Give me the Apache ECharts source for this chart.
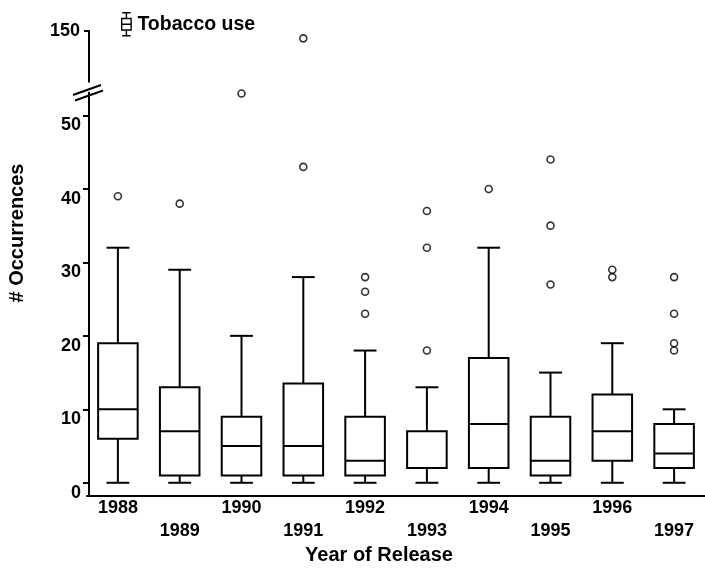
<!DOCTYPE html>
<html><head><meta charset="utf-8">
<script src="https://cdn.jsdelivr.net/npm/echarts@6/dist/echarts.min.js"></script>
<style>html,body{margin:0;padding:0;background:#fff}#c{width:705px;height:569px}</style>
</head><body><div id="c"></div>
<script>
// ---- data ----
const years = ['1988','1989','1990','1991','1992','1993','1994','1995','1996','1997'];
const whiskerLow  = [0, 0, 0, 0, 0, 0, 0, 0, 0, 0];
const q1          = [6, 1, 1, 1, 1, 2, 2, 1, 3, 2];
const medians     = [10, 7, 5, 5, 3, 2, 8, 3, 7, 4];
const q3          = [19, 13, 9, 13.5, 9, 7, 17, 9, 12, 8];
const whiskerHigh = [32, 29, 20, 28, 18, 13, 32, 15, 19, 10];
const outlierYearIdx = [0, 1, 2, 3, 4, 4, 4, 5, 5, 5, 6, 7, 7, 7, 8, 8, 9, 9, 9, 9];
const outlierValues  = [39, 38, 53, 43, 23, 26, 28, 18, 32, 37, 40, 27, 35, 44, 28, 29, 18, 19, 23, 28];
const upperOutlierYearIdx = [3];
const upperOutlierValues  = [149];
const lowerTicks = [0, 10, 20, 30, 40, 50];
const upperTicks = [150];
const seriesName = 'Tobacco use';

const FONT = '"Liberation Sans", Arial, Helvetica, sans-serif';
const boxData = years.map((y, i) => [i, whiskerLow[i], q1[i], medians[i], q3[i], whiskerHigh[i]]);
const lowerOut = outlierYearIdx.map((k, i) => [k, outlierValues[i]]);
const upperOut = upperOutlierYearIdx.map((k, i) => [k, upperOutlierValues[i]]);

function renderBox(params, api) {
  const x = api.value(0);
  const lo = api.coord([x, api.value(1)]);
  const b1 = api.coord([x, api.value(2)]);
  const md = api.coord([x, api.value(3)]);
  const b3 = api.coord([x, api.value(4)]);
  const hi = api.coord([x, api.value(5)]);
  const band = api.size([1, 0])[0];
  const bw = band * 0.64, cw = band * 0.37;
  const cx = lo[0];
  const st = { stroke: '#000', lineWidth: 2, fill: null };
  return { type: 'group', children: [
    { type: 'line', shape: { x1: cx, y1: hi[1], x2: cx, y2: b3[1] }, style: st },
    { type: 'line', shape: { x1: cx, y1: b1[1], x2: cx, y2: lo[1] }, style: st },
    { type: 'line', shape: { x1: cx - cw / 2, y1: hi[1], x2: cx + cw / 2, y2: hi[1] }, style: st },
    { type: 'line', shape: { x1: cx - cw / 2, y1: lo[1], x2: cx + cw / 2, y2: lo[1] }, style: st },
    { type: 'rect', shape: { x: cx - bw / 2, y: b3[1], width: bw, height: b1[1] - b3[1] }, style: { stroke: '#000', lineWidth: 2, fill: '#fff' } },
    { type: 'line', shape: { x1: cx - bw / 2, y1: md[1], x2: cx + bw / 2, y2: md[1] }, style: st }
  ]};
}

const chart = echarts.init(document.getElementById('c'), null, { renderer: 'canvas' });
const outlierStyle = { color: '#fff', borderColor: '#000', borderWidth: 1.6 };
const legendIcon = 'path://M2,0.5L10,0.5M6,0.5L6,6M1.5,6L10.5,6L10.5,17L1.5,17ZM1.5,11.5L10.5,11.5M6,17L6,22.5M2,22.5L10,22.5';

chart.setOption({
  backgroundColor: '#fff',
  animation: false,
  textStyle: { fontFamily: FONT },
  legend: {
    left: 116, top: 7, itemWidth: 12, itemHeight: 23,
    data: [{ name: seriesName, icon: legendIcon }],
    itemStyle: { color: '#fff', borderColor: '#000', borderWidth: 1.4 },
    textStyle: { fontFamily: FONT, fontSize: 19.5, fontWeight: 'bold', color: '#000', padding: [0, 0, 0, 0] }
  },
  grid: [
    { left: 87, width: 625, top: 31, height: 50.7 },
    { left: 87, width: 625, top: 92.7, height: 403.3 }
  ],
  xAxis: [
    { type: 'category', gridIndex: 0, data: years, show: false },
    { type: 'category', gridIndex: 1, data: years,
      axisLine: { onZero: false, lineStyle: { color: '#000', width: 2 } },
      axisTick: { show: false },
      axisLabel: { interval: 0, margin: 1, fontFamily: FONT, fontSize: 18, fontWeight: 'bold', color: '#000', lineHeight: 23,
        formatter: (v, i) => (i % 2 ? '\n' + v : v) } }
  ],
  yAxis: [
    { type: 'value', gridIndex: 0, min: 143.1, max: 150, offset: -2,
      splitLine: { show: false },
      axisLine: { show: true, onZero: false, lineStyle: { color: '#000', width: 2 } },
      axisTick: { show: true, length: 5, customValues: upperTicks, lineStyle: { color: '#000', width: 2 } },
      axisLabel: { customValues: upperTicks, margin: 9, fontFamily: FONT, fontSize: 18, fontWeight: 'bold', color: '#000' } },
    { type: 'value', gridIndex: 1, min: -1.8, max: 53.1, offset: -2,
      splitLine: { show: false },
      axisLine: { show: true, onZero: false, lineStyle: { color: '#000', width: 2 } },
      axisTick: { show: true, length: 6, customValues: lowerTicks, lineStyle: { color: '#000', width: 2 } },
      axisLabel: { customValues: lowerTicks, margin: 8, verticalAlign: 'top', lineHeight: 20, fontFamily: FONT, fontSize: 18, fontWeight: 'bold', color: '#000' } }
  ],
  series: [
    { name: seriesName, type: 'custom', xAxisIndex: 1, yAxisIndex: 1, renderItem: renderBox,
      encode: { x: 0, y: [1, 2, 3, 4, 5] }, data: boxData, itemStyle: { color: '#000' } },
    { name: seriesName, type: 'scatter', xAxisIndex: 1, yAxisIndex: 1, symbol: 'circle', symbolSize: 7,
      itemStyle: outlierStyle, data: lowerOut, z: 5 },
    { name: seriesName, type: 'scatter', xAxisIndex: 0, yAxisIndex: 0, symbol: 'circle', symbolSize: 7,
      itemStyle: outlierStyle, data: upperOut, z: 5 }
  ],
  graphic: [
    { type: 'line', shape: { x1: 73, y1: 95, x2: 101, y2: 85 }, style: { stroke: '#000', lineWidth: 2 }, z: 10 },
    { type: 'line', shape: { x1: 75, y1: 100.5, x2: 103, y2: 90.5 }, style: { stroke: '#000', lineWidth: 2 }, z: 10 },
    { type: 'text', x: 17, y: 233, rotation: Math.PI / 2,
      style: { text: '# Occurrences', fontFamily: FONT, fontSize: 20, fontWeight: 'bold', fill: '#000', align: 'center', verticalAlign: 'middle' } },
    { type: 'text', x: 379, y: 555,
      style: { text: 'Year of Release', fontFamily: FONT, fontSize: 20, fontWeight: 'bold', fill: '#000', align: 'center', verticalAlign: 'middle' } }
  ]
});
</script>
</body></html>
